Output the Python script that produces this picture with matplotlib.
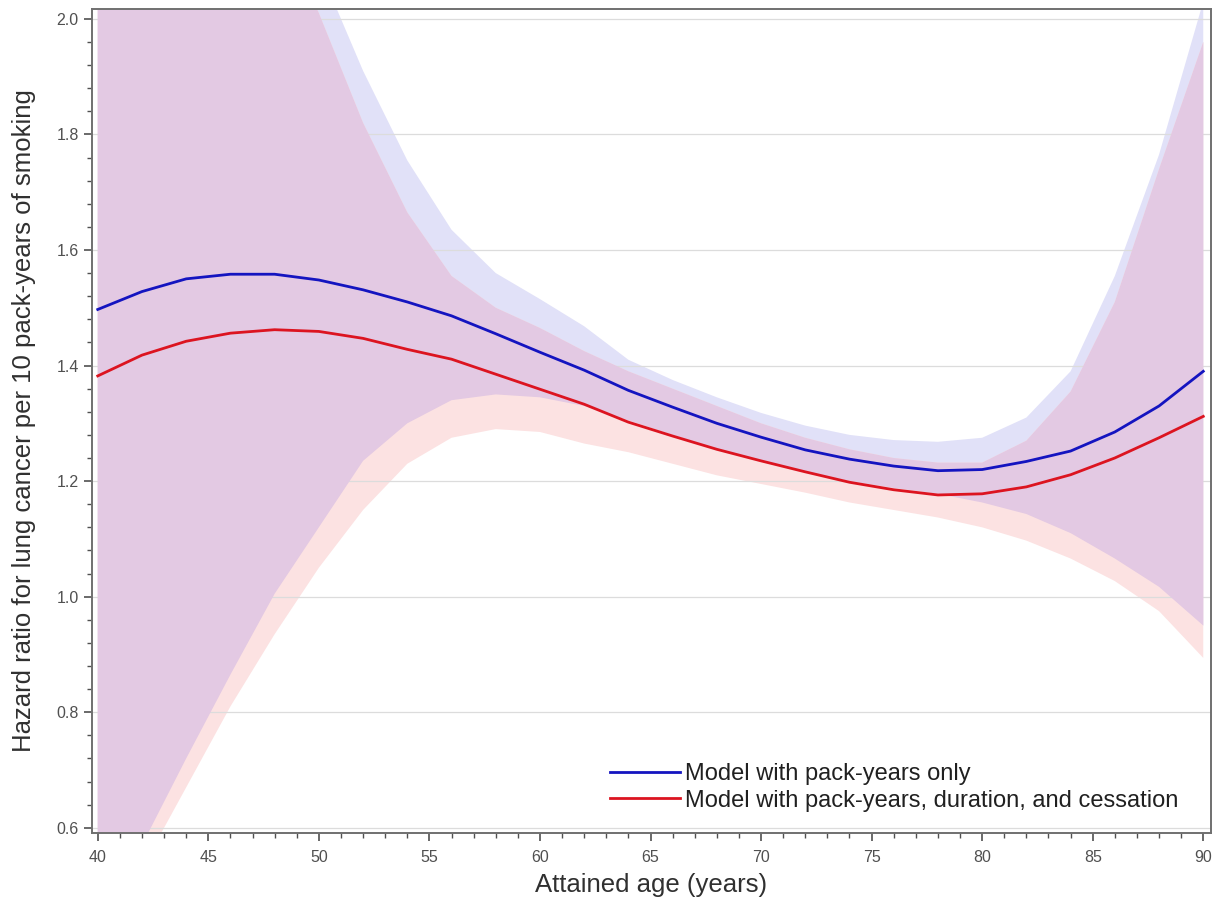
import numpy as np
import matplotlib
matplotlib.use("Agg")
import matplotlib.pyplot as plt
from matplotlib.ticker import MultipleLocator

plt.rcParams['font.family'] = ['Liberation Sans', 'DejaVu Sans']

# attained age grid
age = [40, 42, 44, 46, 48, 50, 52, 54, 56, 58, 60, 62, 64,
       66, 68, 70, 72, 74, 76, 78, 80, 82, 84, 86, 88, 90]

# model with pack-years only
hr_py = [1.497, 1.528, 1.550, 1.558, 1.558, 1.548, 1.531, 1.510, 1.486,
         1.455, 1.423, 1.392, 1.357, 1.328, 1.300, 1.276, 1.254, 1.238,
         1.226, 1.218, 1.220, 1.234, 1.252, 1.285, 1.330, 1.390]
lo_py = [0.33, 0.57, 0.72, 0.865, 1.005, 1.12, 1.235, 1.30, 1.34, 1.35,
         1.345, 1.33, 1.305, 1.28, 1.256, 1.236, 1.217, 1.20, 1.188, 1.178,
         1.163, 1.143, 1.11, 1.066, 1.017, 0.95]
hi_py = [3.3, 3.0, 2.72, 2.48, 2.27, 2.09, 1.91, 1.755, 1.635, 1.56,
         1.515, 1.468, 1.41, 1.375, 1.345, 1.318, 1.296, 1.28, 1.271, 1.268,
         1.275, 1.31, 1.39, 1.555, 1.765, 2.03]

# model with pack-years, duration and cessation
hr_full = [1.382, 1.418, 1.442, 1.456, 1.462, 1.459, 1.447, 1.428, 1.411,
           1.385, 1.359, 1.333, 1.302, 1.278, 1.255, 1.235, 1.216, 1.198,
           1.185, 1.176, 1.178, 1.190, 1.211, 1.240, 1.275, 1.312]
lo_full = [0.39, 0.53, 0.67, 0.81, 0.935, 1.05, 1.15, 1.23, 1.275, 1.29,
           1.285, 1.265, 1.25, 1.23, 1.21, 1.195, 1.18, 1.163, 1.15, 1.137,
           1.12, 1.097, 1.066, 1.027, 0.975, 0.894]
hi_full = [3.0, 2.75, 2.55, 2.35, 2.17, 2.01, 1.82, 1.665, 1.555, 1.50,
           1.465, 1.425, 1.39, 1.36, 1.33, 1.30, 1.275, 1.255, 1.24, 1.232,
           1.232, 1.27, 1.355, 1.51, 1.74, 1.96]

labels = ['Model with pack-years only',
          'Model with pack-years, duration, and cessation']

x = np.array(age)
lo_py, hi_py = np.array(lo_py), np.array(hi_py)
lo_full, hi_full = np.array(lo_full), np.array(hi_full)

fig = plt.figure(figsize=(12.23, 9.07), dpi=100)
ax = fig.add_axes([92 / 1223, 1 - 833 / 907, (1211 - 92) / 1223, (833 - 9) / 907])

# bands, overlap drawn in its own colour
ax.fill_between(x, lo_py, hi_py, color='#e1e1f8', lw=0, zorder=1)
ax.fill_between(x, lo_full, hi_full, color='#fce2e2', lw=0, zorder=1)
ov_lo = np.maximum(lo_py, lo_full)
ov_hi = np.minimum(hi_py, hi_full)
ax.fill_between(x, ov_lo, ov_hi, where=ov_hi > ov_lo, interpolate=True,
                color='#e3c9e3', lw=0, zorder=2)

ax.plot(x, hr_py, color='#1414c0', lw=2.0, zorder=4, label=labels[0])
ax.plot(x, hr_full, color='#dc1420', lw=2.0, zorder=4, label=labels[1])

ax.set_xlim(39.74, 90.35)
ax.set_ylim(0.591, 2.017)
ax.xaxis.set_major_locator(MultipleLocator(5))
ax.xaxis.set_minor_locator(MultipleLocator(1))
ax.yaxis.set_major_locator(MultipleLocator(0.2))
ax.yaxis.set_minor_locator(MultipleLocator(0.04))
ax.yaxis.set_major_formatter(lambda v, p: f'{v:.1f}')
ax.grid(axis='y', which='major', color='#dcdcdc', lw=0.9, zorder=3)

for s in ax.spines.values():
    s.set_color('#707070')
    s.set_linewidth(1.4)
ax.tick_params(which='major', direction='out', length=6, width=1.2,
               color='#505050', labelsize=11.5, labelcolor='#505050')
ax.tick_params(axis='x', which='major', pad=6)
ax.tick_params(which='minor', direction='out', length=3.5, width=1.0,
               color='#505050')

ax.set_xlabel('Attained age (years)', fontsize=18.5, color='#303030')
ax.set_ylabel('Hazard ratio for lung cancer per 10 pack-years of smoking',
              fontsize=18.5, color='#303030')
ax.xaxis.set_label_coords(0.5, -0.048)
ax.yaxis.set_label_coords(-0.05, 0.5)

ax.legend(loc='lower right', bbox_to_anchor=(0.99, 0.0), frameon=False,
          fontsize=17, handlelength=3.0, handletextpad=0.2,
          labelspacing=0.2, labelcolor='#202020')

fig.savefig('out.png', dpi=100)
